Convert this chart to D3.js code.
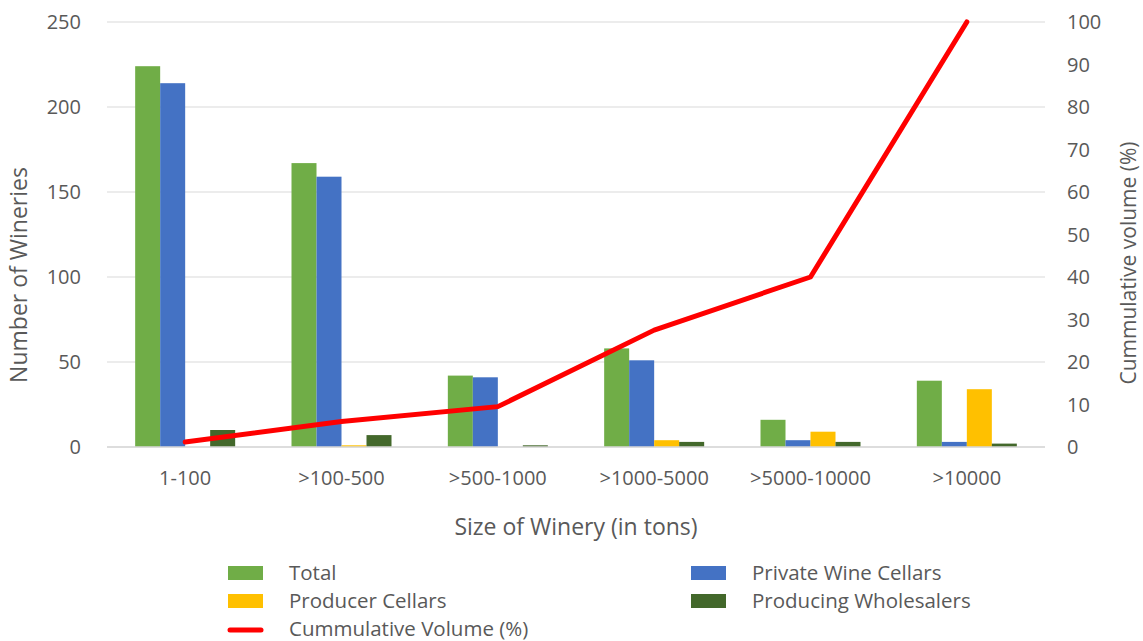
<!DOCTYPE html>
<html>
<head>
<meta charset="utf-8">
<script src="https://cdn.jsdelivr.net/npm/d3@7"></script>
<style>
  body { margin: 0; background: #fff; }
  svg text { font-family: "Open Sans", "Liberation Sans", sans-serif; fill: #595959; }
</style>
</head>
<body>
<svg id="chart" width="1143" height="641"></svg>
<script>
// chart data
var categories = ["1-100", ">100-500", ">500-1000", ">1000-5000", ">5000-10000", ">10000"];
var seriesNames = ["Total", "Private Wine Cellars", "Producer Cellars", "Producing Wholesalers"];
var seriesColors = ["#70ad47", "#4472c4", "#ffc000", "#43682b"];
var total = [224, 167, 42, 58, 16, 39];
var privateCellars = [214, 159, 41, 51, 4, 3];
var producerCellars = [0, 1, 0, 4, 9, 34];
var wholesalers = [10, 7, 1, 3, 3, 2];
var cumVolume = [1.2, 6, 9.5, 27.5, 40, 100];
var leftTicks = [0, 50, 100, 150, 200, 250];
var rightTicks = [0, 10, 20, 30, 40, 50, 60, 70, 80, 90, 100];

var series = [total, privateCellars, producerCellars, wholesalers];

var svg = d3.select("#chart");
var plotLeft = 107, plotRight = 1045, plotTop = 22, plotBottom = 447;

var x = d3.scaleBand().domain(categories).range([plotLeft, plotRight]);
var xs = d3.scaleBand().domain(d3.range(4)).range([0, 100]);
var y = d3.scaleLinear().domain([0, 250]).range([plotBottom, plotTop]);
var y2 = d3.scaleLinear().domain([0, 100]).range([plotBottom, plotTop]);

// gridlines
svg.append("g")
  .selectAll("line")
  .data(leftTicks)
  .join("line")
  .attr("x1", plotLeft).attr("x2", plotRight)
  .attr("y1", d => y(d)).attr("y2", d => y(d))
  .attr("stroke", "#d9d9d9").attr("stroke-width", 1);

// left axis labels
svg.append("g")
  .selectAll("text")
  .data(leftTicks)
  .join("text")
  .attr("x", 81).attr("y", d => y(d))
  .attr("dy", "0.35em")
  .attr("text-anchor", "end")
  .attr("font-size", 20)
  .text(d => d);

// right axis labels
svg.append("g")
  .selectAll("text")
  .data(rightTicks)
  .join("text")
  .attr("x", 1067).attr("y", d => y2(d))
  .attr("dy", "0.35em")
  .attr("font-size", 20)
  .text(d => d);

// bars
var groups = svg.append("g")
  .selectAll("g")
  .data(series)
  .join("g")
  .attr("fill", (d, i) => seriesColors[i]);

groups.each(function (vals, si) {
  d3.select(this).selectAll("rect")
    .data(vals)
    .join("rect")
    .attr("x", (d, ci) => x(categories[ci]) + x.bandwidth() / 2 - 50 + xs(si))
    .attr("width", xs.bandwidth())
    .attr("y", d => y(d))
    .attr("height", d => plotBottom - y(d));
});

// axis line
svg.append("line")
  .attr("x1", plotLeft).attr("x2", plotRight)
  .attr("y1", plotBottom).attr("y2", plotBottom)
  .attr("stroke", "#d9d9d9").attr("stroke-width", 1.5);

// cumulative line
var line = d3.line()
  .x((d, i) => x(categories[i]) + x.bandwidth() / 2)
  .y(d => y2(d));

svg.append("path")
  .datum(cumVolume)
  .attr("d", line)
  .attr("fill", "none")
  .attr("stroke", "#ff0000")
  .attr("stroke-width", 5)
  .attr("stroke-linecap", "round")
  .attr("stroke-linejoin", "round");

// category labels
svg.append("g")
  .selectAll("text")
  .data(categories)
  .join("text")
  .attr("x", d => x(d) + x.bandwidth() / 2)
  .attr("y", 478)
  .attr("dy", "0.35em")
  .attr("text-anchor", "middle")
  .attr("font-size", 20)
  .text(d => d);

// axis titles
svg.append("text")
  .attr("x", (plotLeft + plotRight) / 2).attr("y", 527)
  .attr("dy", "0.35em")
  .attr("text-anchor", "middle")
  .attr("font-size", 23)
  .text("Size of Winery (in tons)");

svg.append("text")
  .attr("transform", "translate(19,275) rotate(-90)")
  .attr("dy", "0.35em")
  .attr("text-anchor", "middle")
  .attr("font-size", 23)
  .text("Number of Wineries");

svg.append("text")
  .attr("transform", "translate(1129,263) rotate(-90)")
  .attr("dy", "0.35em")
  .attr("text-anchor", "middle")
  .attr("font-size", 21)
  .text("Cummulative volume (%)");

// legend
var legendPos = [[228, 573], [691, 573], [228, 601], [691, 601]];
var legend = svg.append("g");
seriesNames.forEach(function (name, i) {
  legend.append("rect")
    .attr("x", legendPos[i][0]).attr("y", legendPos[i][1] - 7)
    .attr("width", 35).attr("height", 14)
    .attr("fill", seriesColors[i]);
  legend.append("text")
    .attr("x", legendPos[i][0] + 61).attr("y", legendPos[i][1])
    .attr("dy", "0.35em")
    .attr("font-size", 20.5)
    .text(name);
});
legend.append("line")
  .attr("x1", 230).attr("x2", 261)
  .attr("y1", 630).attr("y2", 630)
  .attr("stroke", "#ff0000").attr("stroke-width", 5)
  .attr("stroke-linecap", "round");
legend.append("text")
  .attr("x", 289).attr("y", 629)
  .attr("dy", "0.35em")
  .attr("font-size", 20.5)
  .text("Cummulative Volume (%)");
</script>
</body>
</html>
